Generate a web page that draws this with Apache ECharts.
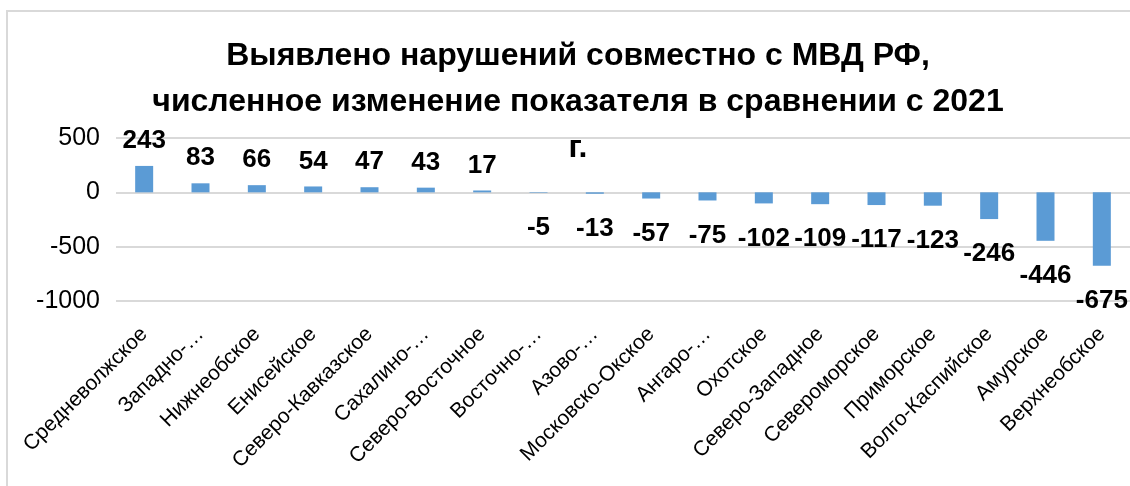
<!DOCTYPE html>
<html>
<head>
<meta charset="utf-8">
<script src="https://cdn.jsdelivr.net/npm/echarts@6/dist/echarts.min.js"></script>
<style>
  html, body { margin: 0; padding: 0; background: #fff; }
  #chart { width: 1130px; height: 486px; }
</style>
</head>
<body>
<div id="chart"></div>
<script>
const titleText = 'Выявлено нарушений совместно с МВД РФ,\nчисленное изменение показателя в сравнении с 2021\nг.';

const categories = [
  'Средневолжское', 'Западно-…', 'Нижнеобское', 'Енисейское', 'Северо-Кавказское',
  'Сахалино-…', 'Северо-Восточное', 'Восточно-…', 'Азово-…', 'Московско-Окское',
  'Ангаро-…', 'Охотское', 'Северо-Западное', 'Североморское', 'Приморское',
  'Волго-Каспийское', 'Амурское', 'Верхнеобское'
];
const values = [243, 83, 66, 54, 47, 43, 17, -5, -13, -57, -75, -102, -109, -117, -123, -246, -446, -675];

const yMin = -1000;
const yMax = 500;
const yStep = 500;

const font = '"Liberation Sans", Arial, sans-serif';

// labels go above positive bars and below negative ones
const barData = values.map(v => ({
  value: v,
  label: { position: v < 0 ? 'bottom' : 'top', distance: v < 0 ? 22 : 12 }
}));

const option = {
  animation: false,
  backgroundColor: '#fff',
  title: {
    text: titleText,
    left: 573,
    top: 28,
    textAlign: 'center',
    textStyle: {
      fontFamily: font,
      fontSize: 32,
      fontWeight: 'bold',
      color: '#000',
      lineHeight: 46
    }
  },
  graphic: [{
    type: 'rect',
    shape: { x: 7, y: 11, width: 1200, height: 600 },
    style: { fill: 'none', stroke: '#d9d9d9', lineWidth: 2 },
    silent: true,
    z: -1
  }],
  grid: { left: 116, right: -1, top: 138, bottom: 185 },
  xAxis: {
    type: 'category',
    data: categories,
    position: 'bottom',
    axisLine: { show: false, onZero: false },
    axisTick: { show: false },
    axisLabel: {
      rotate: 45,
      interval: 0,
      margin: 30,
      fontFamily: font,
      fontSize: 21,
      color: '#000'
    }
  },
  yAxis: {
    type: 'value',
    min: yMin,
    max: yMax,
    interval: yStep,
    axisLine: { show: false },
    axisTick: { show: false },
    axisLabel: {
      margin: 16,
      fontFamily: font,
      fontSize: 25,
      color: '#000',
      formatter: v => String(v)
    },
    splitLine: { lineStyle: { color: '#d9d9d9', width: 2 } }
  },
  series: [{
    type: 'bar',
    data: barData,
    barWidth: 18,
    itemStyle: { color: '#5b9bd5' },
    label: {
      show: true,
      fontFamily: font,
      fontSize: 26,
      fontWeight: 'bold',
      color: '#000'
    }
  }]
};

const chart = echarts.init(document.getElementById('chart'));
chart.setOption(option);
</script>
</body>
</html>
